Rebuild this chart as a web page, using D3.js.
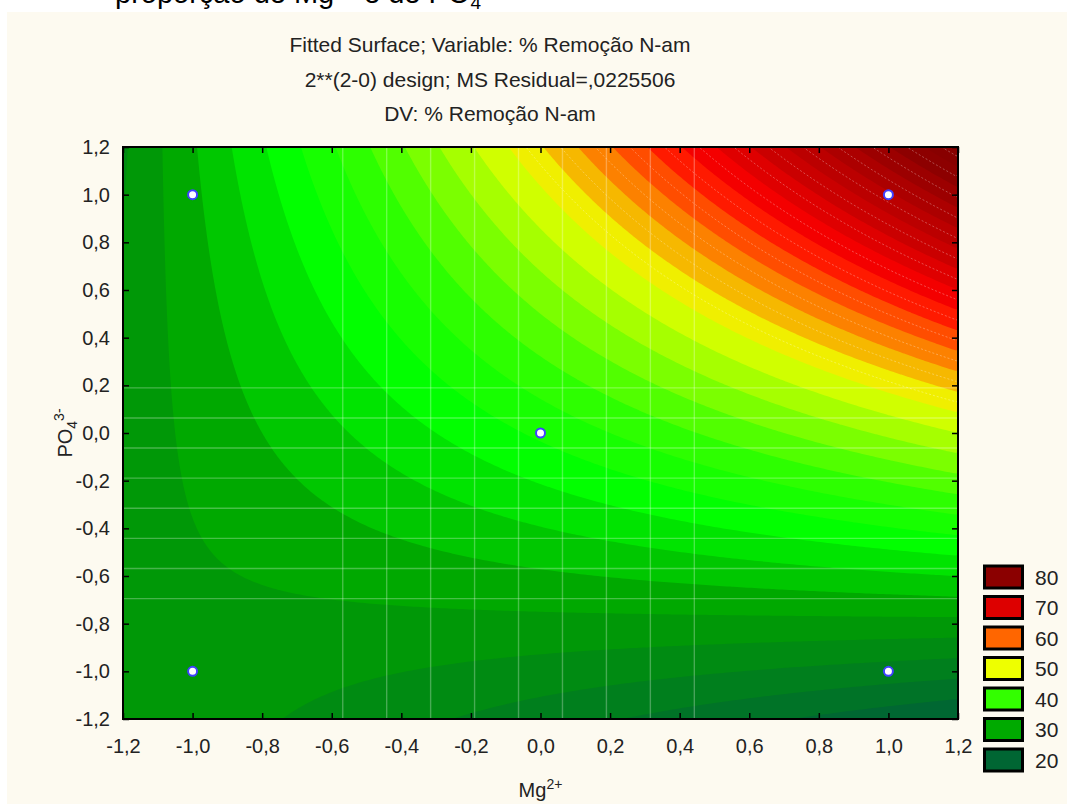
<!DOCTYPE html>
<meta charset="utf-8">
<style>
body { margin: 0; background: #fff; }
text { font-family: "Liberation Sans", Arial, sans-serif; }
</style>
<svg width="1067" height="804"></svg>
<script src="https://d3js.org/d3.v7.min.js"></script>
<script>

// design points of the 2**(2-0) design plus centre point, and the response (% Remoção N-am)
var designX  = [-1, -1, 1, 1, 0];
var designY  = [-1, 1, -1, 1, 0];
var response = [26.6, 29.4, 21.4, 74.6, 38.0];

var tickValues = [-1.2, -1.0, -0.8, -0.6, -0.4, -0.2, 0.0, 0.2, 0.4, 0.6, 0.8, 1.0, 1.2];

var legendValues = [80, 70, 60, 50, 40, 30, 20];
var legendColors = ["#8b0000", "#dd0000", "#ff6600", "#eeff00", "#33ff00", "#00aa00", "#006633"];

// colour stops used for the filled bands
var stopValues = [16, 28, 36, 42, 53, 60, 65, 71, 82];
var stopColors = ["#006633", "#00a000", "#00ff00", "#33ff00", "#eeff00", "#ff6600", "#ff0000", "#cc0000", "#880000"];

var titles = ["Fitted Surface; Variable: % Remoção N-am",
              "2**(2-0) design; MS Residual=,0225506",
              "DV: % Remoção N-am"];

var svg = d3.select("svg"),
    width = +svg.attr("width"),
    height = +svg.attr("height");

var pLeft = 123, pRight = 958, pTop = 147, pBottom = 719;

var x = d3.scaleLinear().domain([-1.2, 1.2]).range([pLeft, pRight]);
var y = d3.scaleLinear().domain([-1.2, 1.2]).range([pBottom, pTop]);

var locale = d3.formatLocale({decimal: ",", thousands: ".", grouping: [3], currency: ["", ""], minus: "-"});
var fmt = locale.format(".1f");

// ---- fit z = b0 + b1 x + b2 y + b12 xy (orthogonal columns) ----
function coef(col) {
        var num = 0, den = 0;
        for (var i = 0; i < response.length; i++) {
                num += col[i] * response[i];
                den += col[i] * col[i];
        }
        return num / den;
}
var b0  = coef(designX.map(function() { return 1; }));
var b1  = coef(designX);
var b2  = coef(designY);
var b12 = coef(designX.map(function(v, i) { return v * designY[i]; }));

function fitted(px, py) {
        return b0 + b1 * px + b2 * py + b12 * px * py;
}

// ---- background ----
svg.append("rect").attr("width", width).attr("height", height).attr("fill", "#fff");

svg.append("text")
   .attr("x", 115).attr("y", 3)
   .style("font-size", "29px")
   .attr("fill", "#000")
   .html('proporção de Mg<tspan dy="-10" font-size="19">2+</tspan><tspan dy="10"> e de PO</tspan><tspan dy="6" font-size="19">4</tspan><tspan dy="-16" font-size="19">3-</tspan>');

svg.append("rect")
   .attr("x", 7).attr("y", 12)
   .attr("width", width - 7).attr("height", height - 12)
   .attr("fill", "#fdfaf0");

titles.forEach(function(t, i) {
        svg.append("text")
           .attr("x", 490).attr("y", 52 + i * 34.5)
           .attr("text-anchor", "middle")
           .style("font-size", "21px")
           .attr("fill", "#222")
           .text(t);
});

// ---- contour bands ----
var n = 240;
var grid = new Array(n * n);
for (var j = 0; j < n; j++) {
        for (var i = 0; i < n; i++) {
                var gx = -1.2 + (i + 0.5) / n * 2.4;
                var gy = 1.2 - (j + 0.5) / n * 2.4;
                grid[j * n + i] = fitted(gx, gy);
        }
}

var step = 2.5;
var thresholds = d3.range(0, 100, step);
var fillColor = d3.scaleLinear().domain(stopValues).range(stopColors).clamp(true);

var proj = d3.geoTransform({
        point: function(px, py) {
                this.stream.point(pLeft + px / n * (pRight - pLeft), pTop + py / n * (pBottom - pTop));
        }
});
var path = d3.geoPath(proj);

var contours = d3.contours().size([n, n]).thresholds(thresholds)(grid);

svg.append("g")
   .selectAll("path")
   .data(contours)
   .join("path")
   .attr("d", path)
   .attr("fill", function(d) { return fillColor(d.value + step / 2); });

// mesh lines showing through the surface
var mesh = svg.append("g").attr("stroke", "#fff").attr("stroke-opacity", 0.28).attr("stroke-width", 1.4);
var meshStep = 2.4 / 19;
d3.range(5, 14).forEach(function(k) {
        mesh.append("line")
            .attr("x1", x(-1.2 + k * meshStep)).attr("x2", x(-1.2 + k * meshStep))
            .attr("y1", pTop).attr("y2", pBottom);
});
d3.range(4, 12).forEach(function(k) {
        mesh.append("line")
            .attr("y1", y(-1.2 + k * meshStep)).attr("y2", y(-1.2 + k * meshStep))
            .attr("x1", pLeft).attr("x2", pRight);
});

// dotted iso-lines in the upper region
var iso = d3.contours().size([n, n]).thresholds(d3.range(53.75, 100, step))(grid);
svg.append("g")
   .selectAll("path")
   .data(iso)
   .join("path")
   .attr("d", path)
   .attr("fill", "none")
   .attr("stroke", "#fff")
   .attr("stroke-opacity", 0.3)
   .attr("stroke-width", 1)
   .attr("stroke-dasharray", "2,2");

// ---- axes ----
function styleAxis(g) {
        g.select(".domain").remove();
        g.selectAll(".tick line").attr("stroke", "#000").attr("stroke-width", 1.5);
        g.selectAll(".tick text").attr("fill", "#222").style("font-size", "20px")
         .style("font-family", '"Liberation Sans", Arial, sans-serif');
}

svg.append("g")
   .attr("transform", "translate(0," + pBottom + ")")
   .call(d3.axisBottom(x).tickValues(tickValues).tickFormat(fmt).tickSizeInner(-6).tickSizeOuter(0).tickPadding(20))
   .call(styleAxis);

svg.append("g")
   .attr("transform", "translate(" + pLeft + ",0)")
   .call(d3.axisLeft(y).tickValues(tickValues).tickFormat(fmt).tickSizeInner(-6).tickSizeOuter(0).tickPadding(13))
   .call(styleAxis);

svg.append("g")
   .attr("transform", "translate(0," + pTop + ")")
   .call(d3.axisTop(x).tickValues(tickValues).tickFormat("").tickSizeInner(-6).tickSizeOuter(0))
   .call(styleAxis);

svg.append("g")
   .attr("transform", "translate(" + pRight + ",0)")
   .call(d3.axisRight(y).tickValues(tickValues).tickFormat("").tickSizeInner(-6).tickSizeOuter(0))
   .call(styleAxis);

svg.append("rect")
   .attr("x", pLeft).attr("y", pTop)
   .attr("width", pRight - pLeft).attr("height", pBottom - pTop)
   .attr("fill", "none")
   .attr("stroke", "#000")
   .attr("stroke-width", 2);

// ---- design points ----
svg.append("g")
   .selectAll("circle")
   .data(designX)
   .join("circle")
   .attr("cx", function(d) { return x(d); })
   .attr("cy", function(d, i) { return y(designY[i]); })
   .attr("r", 4.5)
   .attr("fill", "#fff")
   .attr("stroke", "#4040ff")
   .attr("stroke-width", 2);

// ---- axis titles ----
svg.append("text")
   .attr("x", (pLeft + pRight) / 2).attr("y", 797)
   .attr("text-anchor", "middle")
   .style("font-size", "20px")
   .attr("fill", "#222")
   .html('Mg<tspan dy="-8" font-size="14">2+</tspan>');

svg.append("text")
   .attr("transform", "translate(72," + (pTop + pBottom) / 2 + ") rotate(-90)")
   .attr("text-anchor", "middle")
   .style("font-size", "20px")
   .attr("fill", "#222")
   .html('PO<tspan dy="5" font-size="14">4</tspan><tspan dy="-13" font-size="14">3-</tspan>');

// ---- legend ----
var legend = svg.append("g");
legendValues.forEach(function(v, i) {
        var ly = 566 + i * 30.5;
        legend.append("rect")
              .attr("x", 984.5).attr("y", ly)
              .attr("width", 38).attr("height", 22)
              .attr("fill", legendColors[i])
              .attr("stroke", "#000")
              .attr("stroke-width", 3);
        legend.append("text")
              .attr("x", 1035).attr("y", ly + 11)
              .attr("dy", "0.36em")
              .style("font-size", "21px")
              .attr("fill", "#222")
              .text(v);
});

</script>
